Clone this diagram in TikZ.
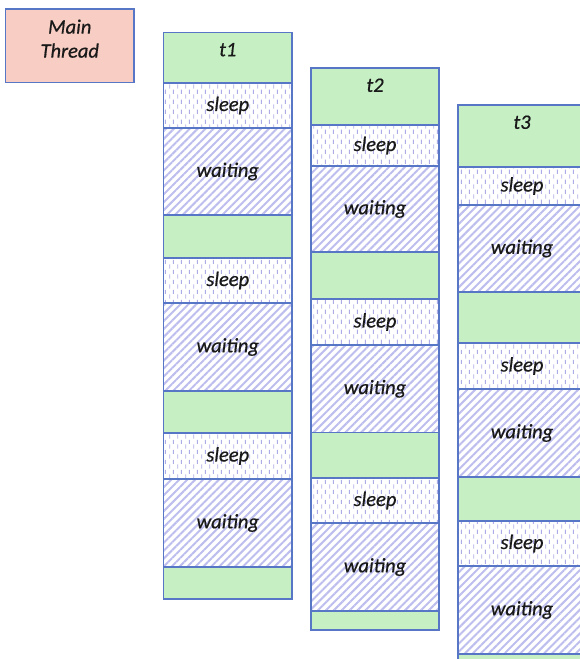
\documentclass[tikz,border=0pt]{standalone}
\usepackage{fontspec}
\setmainfont{Carlito}[ItalicFeatures={FakeBold=0.6}]
\usetikzlibrary{patterns.meta}

\definecolor{edgeblue}{RGB}{88,118,198}
\definecolor{runfill}{RGB}{198,239,196}
\definecolor{mainfill}{RGB}{248,206,196}
\definecolor{stripe}{RGB}{190,190,238}
\definecolor{dashcol}{RGB}{172,172,230}

\tikzdeclarepattern{
  name=vdash, type=uncolored,
  bounding box={(0,0) and (8pt,10pt)},
  tile size={(8pt,10pt)},
  code={
    \draw[line width=1pt] (2pt,0.5pt) -- (2pt,5pt);
    \draw[line width=1pt] (6pt,5.5pt) -- (6pt,10pt);
  }}

\begin{document}
\begin{tikzpicture}[x=1pt, y=-1pt,
  font=\fontsize{20.5}{24}\selectfont\itshape,
  lbl/.style={anchor=north, yshift=-7pt, align=center, text=black!90},
  seg/.style={draw=edgeblue, line width=1.3pt, anchor=north west, outer sep=0pt,
    inner sep=2pt, minimum width=128pt, text=black!90},
  grn/.style={fill=runfill, node contents={}},
  slp/.style={pattern={vdash}, pattern color=dashcol, node contents={sleep}},
  wt/.style={pattern={Lines[angle=45, distance=5.6pt, line width=2pt]},
    pattern color=stripe, node contents={waiting}},
]
  \useasboundingbox (0,0) rectangle (579,659);

  % main thread
  \node[seg, fill=mainfill, minimum width=128.5pt, minimum height=73.5pt,
        label={[lbl]north:Main\\Thread}] (main) at (5.5,9) {};

  % thread t1
  \node[seg, fill=runfill, minimum width=128.5pt, minimum height=50.5pt,
        label={[lbl]north:t1}] (t1) at (163.5,32.5) {};
  \foreach \kind/\ya/\yb [count=\i] in {slp/83/128, wt/128/215, grn/215/258,
      slp/258/303, wt/303/391, grn/391/433, slp/433/479, wt/479/567, grn/567/599}
    \node[seg, minimum width=128.5pt, minimum height={(\yb-\ya)*1pt},
          name=t1-\i, at={(163.5,\ya)}, \kind];

  % thread t2
  \node[seg, fill=runfill, minimum height=57pt, label={[lbl]north:t2}] (t2) at (311,68) {};
  \foreach \kind/\ya/\yb [count=\i] in {slp/125/166, wt/166/252, grn/252/299,
      slp/299/345, wt/345/432.5, grn/432.5/478, slp/478/523, wt/523/611, grn/611/630}
    \node[seg, minimum height={(\yb-\ya)*1pt}, name=t2-\i, at={(311,\ya)}, \kind];

  % thread t3
  \node[seg, fill=runfill, minimum height=62pt, label={[lbl]north:t3}] (t3) at (458,105) {};
  \foreach \kind/\ya/\yb [count=\i] in {slp/167/205, wt/205/292, grn/292/343,
      slp/343/389, wt/389/477, grn/477/521, slp/521/566, wt/566/654, grn/654/680}
    \node[seg, minimum height={(\yb-\ya)*1pt}, name=t3-\i, at={(458,\ya)}, \kind];
\end{tikzpicture}
\end{document}
